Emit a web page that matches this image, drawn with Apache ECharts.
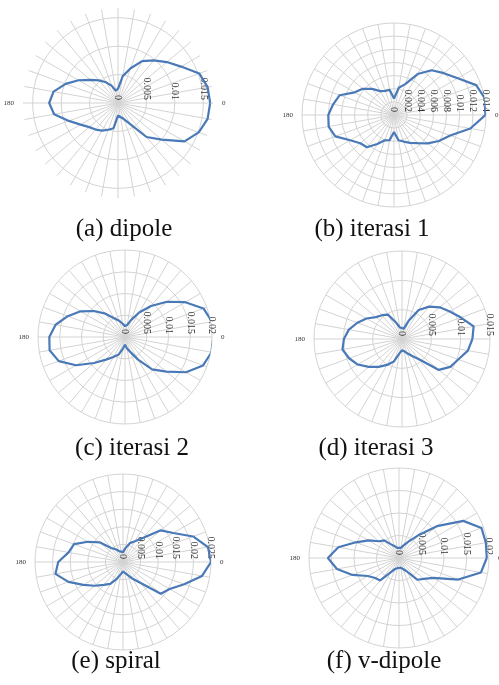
<!DOCTYPE html>
<html>
<head>
<meta charset="utf-8">
<script src="https://cdn.jsdelivr.net/npm/echarts@6/dist/echarts.min.js"></script>
<style>html,body{margin:0;background:#fff}#main{width:499px;height:685px}</style>
</head>
<body>
<div id="main"></div>
<script>
// angle of each spoke (deg, counter-clockwise from the right)
var angles = [0,10,20,30,40,50,60,70,80,90,100,110,120,130,140,150,160,170,180,190,200,210,220,230,240,250,260,270,280,290,300,310,320,330,340,350]

// radiation pattern per antenna, one value per spoke
var dipole   = [0.0162,0.0160,0.0152,0.0128,0.0112,0.0098,0.0085,0.0065,0.0048,0.0025,0.0022,0.0032,0.0042,0.0052,0.0063,0.0080,0.0098,0.0115,0.0121,0.0114,0.0092,0.0076,0.0066,0.0061,0.0056,0.0050,0.0045,0.0022,0.0020,0.0030,0.0043,0.0078,0.0100,0.0135,0.0151,0.0160]
var iterasi1 = [0.0139,0.0141,0.0133,0.0112,0.0099,0.0089,0.0072,0.0050,0.0042,0.0025,0.0039,0.0039,0.0042,0.0052,0.0062,0.0069,0.0088,0.0094,0.0100,0.0101,0.0095,0.0077,0.0067,0.0064,0.0051,0.0041,0.0039,0.0026,0.0039,0.0043,0.0049,0.0056,0.0067,0.0079,0.0091,0.0118]
var iterasi2 = [0.0203,0.0203,0.0192,0.0160,0.0126,0.0093,0.0065,0.0042,0.0028,0.0025,0.0031,0.0040,0.0050,0.0070,0.0093,0.0118,0.0140,0.0162,0.0174,0.0176,0.0162,0.0130,0.0093,0.0068,0.0053,0.0043,0.0027,0.0018,0.0027,0.0037,0.0060,0.0097,0.0124,0.0162,0.0191,0.0202]
var iterasi3 = [0.0120,0.0124,0.0107,0.0094,0.0084,0.0072,0.0057,0.0033,0.0018,0.0015,0.0020,0.0030,0.0048,0.0053,0.0058,0.0070,0.0081,0.0092,0.0099,0.0103,0.0096,0.0087,0.0074,0.0062,0.0051,0.0041,0.0025,0.0019,0.0021,0.0026,0.0033,0.0045,0.0082,0.0095,0.0102,0.0114]
var spiral   = [0.0250,0.0245,0.0212,0.0165,0.0140,0.0090,0.0068,0.0057,0.0040,0.0028,0.0025,0.0033,0.0042,0.0052,0.0087,0.0115,0.0148,0.0157,0.0184,0.0195,0.0165,0.0130,0.0105,0.0085,0.0072,0.0050,0.0035,0.0027,0.0032,0.0040,0.0055,0.0078,0.0140,0.0153,0.0185,0.0228]
var vdipole  = [0.0195,0.0196,0.0195,0.0165,0.0110,0.0065,0.0042,0.0030,0.0023,0.0022,0.0023,0.0028,0.0035,0.0051,0.0058,0.0078,0.0102,0.0137,0.0158,0.0140,0.0110,0.0080,0.0069,0.0065,0.0036,0.0026,0.0023,0.0022,0.0022,0.0026,0.0034,0.0063,0.0072,0.0088,0.0140,0.0185]

var captions = ['(a) dipole','(b) iterasi 1','(c) iterasi 2','(d) iterasi 3','(e) spiral','(f) v-dipole']
// radial scale: last value and label step
var axisMax  = [0.0167,0.014,0.02,0.015,0.025,0.02]
var axisStep = [0.005,0.002,0.005,0.005,0.005,0.005]

var series = [dipole,iterasi1,iterasi2,iterasi3,spiral,vdipole]

// where each plot sits: center x, center y, radius, caption y
var layout = [
    [118,103,95,229],
    [394,115,92,229],
    [125,337,87,448],
    [402,339,88,448],
    [123,562,88,661],
    [399,558,90,661]
]
var captionX = [124,372,132,376,116,384]

var grey = '#d3d3d3'
var options = {polar:[],angleAxis:[],radiusAxis:[],series:[],graphic:[]}

series.forEach(function(vals,i){
    var lay = layout[i], step = axisStep[i]
    options.polar.push({center:[lay[0],lay[1]],radius:lay[2]})
    options.angleAxis.push({
        polarIndex:i,type:'value',min:0,max:360,interval:10,startAngle:0,clockwise:false,
        axisLine:{show:false},axisTick:{show:false},
        axisLabel:{margin:9,fontSize:7,fontFamily:'Liberation Serif',color:'#333',
            formatter:function(v){return v===0?'0':(v===180?'180':'')}},
        splitLine:{show:true,lineStyle:{color:grey,width:1}}
    })
    // the dipole plot has no outer ring
    var ringColors = i===0 ? [grey,grey,grey,grey,'rgba(0,0,0,0)'] : [grey]
    options.radiusAxis.push({
        polarIndex:i,type:'value',min:0,max:axisMax[i],interval:step,
        axisLine:{show:false},axisTick:{show:false},
        axisLabel:{rotate:-90,margin:3,fontSize:10,fontFamily:'Liberation Serif',color:'#333',
            formatter:function(v){
                var k = v/step
                if(Math.abs(k-Math.round(k))>1e-6) return ''
                return String(+v.toFixed(4))
            }},
        splitLine:{show:true,lineStyle:{color:ringColors,width:1}}
    })
    var pts = []
    for(var j=0;j<angles.length;j++) pts.push([vals[j],angles[j]])
    pts.push([vals[0],360])
    options.series.push({
        type:'line',coordinateSystem:'polar',polarIndex:i,data:pts,
        showSymbol:false,smooth:false,silent:true,
        lineStyle:{color:'#4a79b8',width:2.2}
    })
    options.graphic.push({
        type:'text',x:captionX[i],y:lay[3],
        style:{text:captions[i],fontSize:25,fontFamily:'Liberation Serif',fill:'#111',align:'center',verticalAlign:'middle'}
    })
})

var chart = echarts.init(document.getElementById('main'))
chart.setOption(options)
</script>
</body>
</html>
